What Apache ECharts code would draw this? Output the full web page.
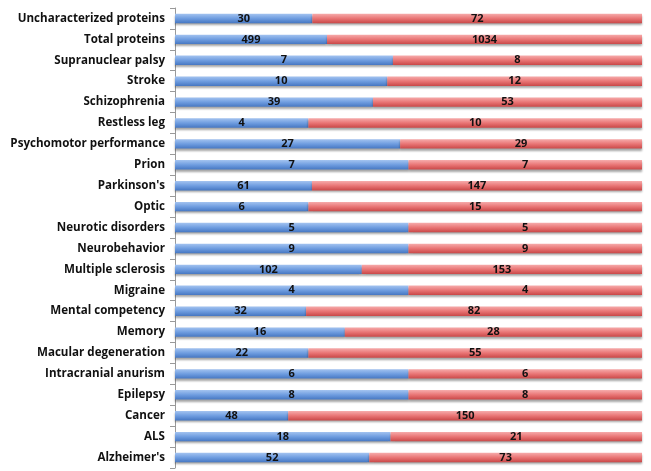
<!DOCTYPE html>
<html><head><meta charset="utf-8">
<script src="https://cdn.jsdelivr.net/npm/echarts@6/dist/echarts.min.js"></script>
<style>html,body{margin:0;padding:0;background:#fff}#c{width:651px;height:471px}</style>
</head><body><div id="c"></div>
<script>
const categories = ["Uncharacterized proteins","Total proteins","Supranuclear palsy","Stroke","Schizophrenia","Restless leg","Psychomotor performance","Prion","Parkinson's","Optic","Neurotic disorders","Neurobehavior","Multiple sclerosis","Migraine","Mental competency","Memory","Macular degeneration","Intracranial anurism","Epilepsy","Cancer","ALS","Alzheimer's"];
const blueValues = [30,499,7,10,39,4,27,7,61,6,5,9,102,4,32,16,22,6,8,48,18,52];
const redValues  = [72,1034,8,12,53,10,29,7,147,15,5,9,153,4,82,28,55,6,8,150,21,73];

const totals = blueValues.map((v,i)=>v+redValues[i]);
const blueShare = blueValues.map((v,i)=>({value: v/totals[i]*100, raw: v}));
const redShare = redValues.map((v,i)=>({value: v/totals[i]*100, raw: v}));

function grad(top, mid, bot){
  return new echarts.graphic.LinearGradient(0,0,0,1,[{offset:0,color:top},{offset:0.5,color:mid},{offset:1,color:bot}]);
}
const labelCfg = {show:true, position:'inside', color:'#111', fontFamily:'Open Sans', fontWeight:'bold', fontSize:11, formatter: p=>p.data.raw};
const chart = echarts.init(document.getElementById('c'));
chart.setOption({
  animation:false,
  grid:{left:175, right:9, top:8, bottom:3},
  xAxis:{type:'value', min:0, max:100, show:false},
  yAxis:{type:'category', data:categories, inverse:true,
    axisLine:{lineStyle:{color:'#999'}},
    axisTick:{show:true, length:5, lineStyle:{color:'#999'}},
    axisLabel:{color:'#111', fontFamily:'Open Sans', fontWeight:'bold', fontSize:11.6, margin:10}},
  series:[
    {type:'bar', stack:'a', data:blueShare, barCategoryGap:'55%',
      itemStyle:{color:grad('#a3c3f0','#6f9de0','#4677c2'), shadowColor:'rgba(0,0,0,0.35)', shadowBlur:2, shadowOffsetY:2},
      label:labelCfg},
    {type:'bar', stack:'a', data:redShare, barCategoryGap:'55%',
      itemStyle:{color:grad('#f6abab','#e97575','#c94848'), shadowColor:'rgba(0,0,0,0.35)', shadowBlur:2, shadowOffsetY:2},
      label:labelCfg}
  ]
});
</script></body></html>
